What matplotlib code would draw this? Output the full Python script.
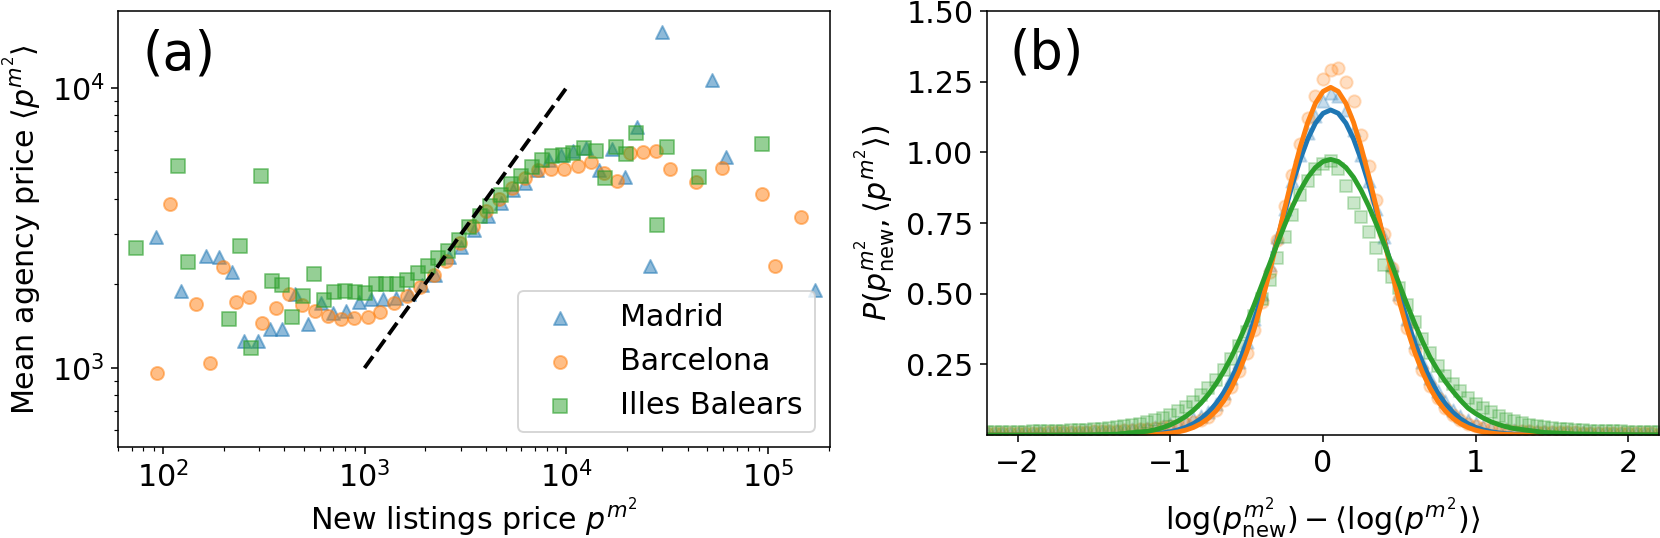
import matplotlib
matplotlib.use('Agg')
import matplotlib.pyplot as plt
from matplotlib.ticker import NullFormatter

COLORS = {
    'madrid': 'tab:blue',
    'barcelona': 'tab:orange',
    'baleares': 'tab:green'
}

# (a) mean agency price vs new listings price (per region)
madrid_x = [92.6, 123.2, 163.8, 189.3, 220.3, 253.8, 295.3, 338.6, 389.5, 453.9,
            522.2, 607.7, 696.8, 805.5, 937.1, 1079, 1242, 1435, 1657, 1931,
            2246, 2615, 3011, 3504, 4077, 4751, 5424, 6266, 7128, 8240,
            9415, 10832, 12516, 14569, 16953, 19594, 22336, 25967, 29980, 52997,
            61753, 170900]
madrid_y = [2943, 1888, 2512, 2486, 2197, 1249, 1249, 1375, 1375, 1838,
            1436, 1702, 1568, 1598, 1716, 1759, 1759, 1774, 1833, 1979,
            2148, 2498, 2711, 3111, 3490, 3874, 4323, 4589, 5095, 5533,
            5763, 5957, 6090, 5083, 6040, 4810, 7237, 2308, 15890, 10664,
            5693, 1899]

bcn_x = [93.7, 109.2, 146.8, 171.5, 198.2, 230.6, 268.7, 310.9, 362.6, 421.5,
         487.6, 566.9, 659.7, 762.6, 887.2, 1038, 1200, 1403, 1623, 1889,
         2200, 2546, 2977, 3437, 4004, 4623, 5385, 6266, 7210, 8401,
         9775, 11375, 13257, 15420, 17947, 20696, 24134, 27990, 32615, 43855,
         58974, 93060, 107930, 145350]
bcn_y = [957, 3842, 1693, 1039, 2300, 1717, 1788, 1452, 1634, 1835,
         1683, 1595, 1534, 1492, 1508, 1525, 1585, 1702, 1815, 1955,
         2148, 2411, 2803, 3215, 3637, 4004, 4383, 4759, 5083, 5125,
         5150, 5275, 5455, 4970, 4643, 5873, 5922, 5966, 5125, 4628,
         5180, 4190, 2308, 3470]

bal_x = [73.8, 118.7, 133.0, 213.9, 242.5, 273.6, 306.6, 346.4, 389.5, 439.2,
         494.4, 559.1, 626.6, 704.0, 796.2, 892.3, 1006, 1134, 1281, 1445,
         1629, 1836, 2058, 2307, 2585, 2930, 3310, 3739, 4193, 4751,
         5323, 5966, 6763, 7580, 8498, 9588, 10832, 12276, 14028, 15567,
         17620, 19815, 22284, 28314, 31730, 45533, 93060]
bal_y = [2676, 5266, 2397, 1496, 2727, 1182, 4850, 2042, 1979, 1519,
         1802, 2163, 1750, 1873, 1888, 1873, 1858, 2001, 2001, 2001,
         2068, 2178, 2308, 2481, 2628, 2865, 3180, 3490, 3790, 4148,
         4530, 4850, 5235, 5545, 5717, 5789, 5873, 6105, 5981, 4771,
         6146, 5821, 6907, 3249, 6166, 4802, 6338]

guide_x = [1e3, 1e4]
guide_y = [1e3, 1e4]

# (b) distribution of log deviations
dev_x = [-2.20, -2.15, -2.10, -2.05, -2.00, -1.95, -1.90, -1.85, -1.80, -1.75,
         -1.70, -1.65, -1.60, -1.55, -1.50, -1.45, -1.40, -1.35, -1.30, -1.25,
         -1.20, -1.15, -1.10, -1.05, -1.00, -0.95, -0.90, -0.85, -0.80, -0.75,
         -0.70, -0.65, -0.60, -0.55, -0.50, -0.45, -0.40, -0.35, -0.30, -0.25,
         -0.20, -0.15, -0.10, -0.05, 0.00, 0.05, 0.10, 0.15, 0.20, 0.25,
         0.30, 0.35, 0.40, 0.45, 0.50, 0.55, 0.60, 0.65, 0.70, 0.75,
         0.80, 0.85, 0.90, 0.95, 1.00, 1.05, 1.10, 1.15, 1.20, 1.25,
         1.30, 1.35, 1.40, 1.45, 1.50, 1.55, 1.60, 1.65, 1.70, 1.75,
         1.80, 1.85, 1.90, 1.95, 2.00, 2.05, 2.10, 2.15, 2.20]
madrid_p = [0.006, 0.006, 0.007, 0.007, 0.007, 0.008, 0.008, 0.009, 0.009, 0.010,
            0.010, 0.011, 0.012, 0.013, 0.014, 0.015, 0.016, 0.018, 0.019, 0.021,
            0.023, 0.026, 0.029, 0.033, 0.038, 0.044, 0.051, 0.060, 0.069, 0.08,
            0.11, 0.15, 0.20, 0.26, 0.33, 0.41, 0.50, 0.60, 0.70, 0.80,
            0.90, 0.99, 1.07, 1.13, 1.18, 1.21, 1.20, 1.15, 1.08, 0.99,
            0.90, 0.80, 0.70, 0.60, 0.50, 0.41, 0.33, 0.26, 0.20, 0.155,
            0.12, 0.09, 0.068, 0.052, 0.041, 0.033, 0.027, 0.023, 0.020, 0.018,
            0.016, 0.015, 0.014, 0.013, 0.012, 0.011, 0.011, 0.010, 0.010, 0.009,
            0.009, 0.008, 0.008, 0.008, 0.007, 0.007, 0.007, 0.006, 0.006]
bcn_p = [0.006, 0.006, 0.006, 0.007, 0.007, 0.007, 0.008, 0.008, 0.009, 0.009,
         0.010, 0.010, 0.011, 0.012, 0.013, 0.014, 0.015, 0.016, 0.017, 0.019,
         0.021, 0.023, 0.026, 0.030, 0.033, 0.036, 0.040, 0.046, 0.054, 0.065,
         0.09, 0.125, 0.17, 0.225, 0.29, 0.37, 0.47, 0.575, 0.69, 0.81,
         0.92, 1.03, 1.12, 1.20, 1.26, 1.29, 1.30, 1.25, 1.18, 1.06,
         0.95, 0.83, 0.71, 0.59, 0.48, 0.38, 0.30, 0.23, 0.175, 0.13,
         0.095, 0.07, 0.052, 0.04, 0.032, 0.026, 0.022, 0.019, 0.017, 0.015,
         0.014, 0.013, 0.012, 0.011, 0.010, 0.010, 0.009, 0.009, 0.008, 0.008,
         0.008, 0.007, 0.007, 0.007, 0.006, 0.006, 0.006, 0.006, 0.005]
bal_p = [0.010, 0.010, 0.011, 0.011, 0.012, 0.012, 0.013, 0.013, 0.014, 0.015,
         0.016, 0.017, 0.018, 0.019, 0.021, 0.023, 0.025, 0.028, 0.031, 0.035,
         0.040, 0.046, 0.053, 0.061, 0.070, 0.085, 0.10, 0.118, 0.14, 0.165,
         0.195, 0.23, 0.27, 0.315, 0.365, 0.42, 0.48, 0.55, 0.625, 0.70,
         0.78, 0.85, 0.90, 0.94, 0.96, 0.97, 0.94, 0.88, 0.82, 0.77,
         0.72, 0.66, 0.60, 0.56, 0.52, 0.46, 0.40, 0.34, 0.29, 0.245,
         0.21, 0.18, 0.155, 0.13, 0.11, 0.094, 0.080, 0.068, 0.058, 0.050,
         0.043, 0.037, 0.032, 0.028, 0.025, 0.022, 0.020, 0.018, 0.017, 0.016,
         0.015, 0.014, 0.013, 0.013, 0.012, 0.012, 0.011, 0.011, 0.011]

# fitted curves
fit_x = [-2.20, -1.95, -1.75, -1.55, -1.35,
         -1.15, -1.10, -1.05, -1.00, -0.95, -0.90, -0.85, -0.80, -0.75, -0.70,
         -0.65, -0.60, -0.55, -0.50, -0.45, -0.40, -0.35, -0.30, -0.25, -0.20,
         -0.15, -0.10, -0.05, 0.00, 0.05, 0.10, 0.15, 0.20, 0.25, 0.30,
         0.35, 0.40, 0.45, 0.50, 0.55, 0.60, 0.65, 0.70, 0.75, 0.80,
         0.85, 0.90, 0.95, 1.00, 1.05, 1.10, 1.15, 1.20, 1.25,
         1.45, 1.65, 1.85, 2.05, 2.30]
madrid_fit = [0.0, 0.0, 0.0, 0.0, 0.0003,
              0.0029, 0.0047, 0.0076, 0.0118, 0.0181, 0.0271, 0.0398, 0.0572, 0.0806, 0.1112,
              0.1503, 0.1989, 0.2579, 0.3274, 0.4072, 0.4960, 0.5917, 0.6915, 0.7914, 0.8871,
              0.9740, 1.0474, 1.1032, 1.1381, 1.15, 1.1381, 1.1032, 1.0474, 0.9740, 0.8871,
              0.7914, 0.6915, 0.5917, 0.4960, 0.4072, 0.3274, 0.2579, 0.1989, 0.1503, 0.1112,
              0.0806, 0.0572, 0.0398, 0.0271, 0.0181, 0.0118, 0.0076, 0.0047, 0.0029,
              0.0003, 0.0, 0.0, 0.0, 0.0]
bcn_fit = [0.0, 0.0, 0.0, 0.0, 0.0001,
           0.0013, 0.0023, 0.0040, 0.0067, 0.0108, 0.0172, 0.0266, 0.0402, 0.0595, 0.0858,
           0.1209, 0.1665, 0.2238, 0.2937, 0.3767, 0.4716, 0.5767, 0.6888, 0.8033, 0.9150,
           1.0178, 1.1058, 1.1732, 1.2155, 1.23, 1.2155, 1.1732, 1.1058, 1.0178, 0.9150,
           0.8033, 0.6888, 0.5767, 0.4716, 0.3767, 0.2937, 0.2238, 0.1665, 0.1209, 0.0858,
           0.0595, 0.0402, 0.0266, 0.0172, 0.0108, 0.0067, 0.0040, 0.0023, 0.0013,
           0.0001, 0.0, 0.0, 0.0, 0.0]
bal_fit = [0.0, 0.0, 0.0001, 0.0005, 0.0028,
           0.0132, 0.0187, 0.0262, 0.0361, 0.0491, 0.0657, 0.0866, 0.1125, 0.1440, 0.1815,
           0.2254, 0.2758, 0.3324, 0.3948, 0.4619, 0.5323, 0.6044, 0.6761, 0.7450, 0.8089,
           0.8651, 0.9116, 0.9463, 0.9677, 0.975, 0.9677, 0.9463, 0.9116, 0.8651, 0.8089,
           0.7450, 0.6761, 0.6044, 0.5323, 0.4619, 0.3948, 0.3324, 0.2758, 0.23, 0.19,
           0.155, 0.123, 0.095, 0.076, 0.060, 0.047, 0.037, 0.029, 0.023,
           0.009, 0.004, 0.002, 0.001, 0.0005]

plt.rcParams['font.size'] = 15.5

fig = plt.figure(figsize=(1660 / 140, 538 / 140), dpi=140)
ax1 = fig.add_axes([0.0711, 0.1691, 0.4289, 0.8104])
ax2 = fig.add_axes([0.5946, 0.1914, 0.4048, 0.7881])

ax1.scatter(madrid_x, madrid_y, marker='^', s=45, color=COLORS['madrid'], alpha=0.5, label='Madrid')
ax1.scatter(bcn_x, bcn_y, marker='o', s=45, color=COLORS['barcelona'], alpha=0.5, label='Barcelona')
ax1.scatter(bal_x, bal_y, marker='s', s=45, color=COLORS['baleares'], alpha=0.5, label='Illes Balears')
ax1.plot(guide_x, guide_y, 'k--', lw=2)

ax1.set_xscale('log')
ax1.set_yscale('log')
ax1.set_xlim(60, 2.03e5)
ax1.set_ylim(522, 1.885e4)
ax1.yaxis.set_minor_formatter(NullFormatter())
ax1.set_xlabel(r'New listings price $p^{m^2}$', labelpad=1)
ax1.set_ylabel(r'Mean agency price $\langle p^{m^2}\rangle$')
ax1.text(0.035, 0.90, '(a)', transform=ax1.transAxes, fontsize=27, va='center')
ax1.legend(loc='lower right', scatterpoints=1, handletextpad=1.0)

ax2.scatter(dev_x, madrid_p, marker='^', s=40, color=COLORS['madrid'], alpha=0.25)
ax2.scatter(dev_x, bcn_p, marker='o', s=40, color=COLORS['barcelona'], alpha=0.25)
ax2.scatter(dev_x, bal_p, marker='s', s=40, color=COLORS['baleares'], alpha=0.25)
ax2.plot(fit_x, madrid_fit, color=COLORS['madrid'], lw=2.5)
ax2.plot(fit_x, bcn_fit, color=COLORS['barcelona'], lw=2.5)
ax2.plot(fit_x, bal_fit, color=COLORS['baleares'], lw=2.5)

ax2.set_xlim(-2.2, 2.2)
ax2.set_ylim(0, 1.5)
ax2.set_xticks([-2, -1, 0, 1, 2])
ax2.set_yticks([0.25, 0.5, 0.75, 1.0, 1.25, 1.5])
ax2.set_xlabel(r'$\log(p^{m^2}_{\mathrm{new}}) - \langle\log(p^{m^2})\rangle$', labelpad=9)
ax2.set_ylabel(r'$P(p^{m^2}_{\mathrm{new}}, \langle p^{m^2}\rangle)$')
ax2.text(0.034, 0.90, '(b)', transform=ax2.transAxes, fontsize=27, va='center')

fig.savefig('out.png', dpi=140)
